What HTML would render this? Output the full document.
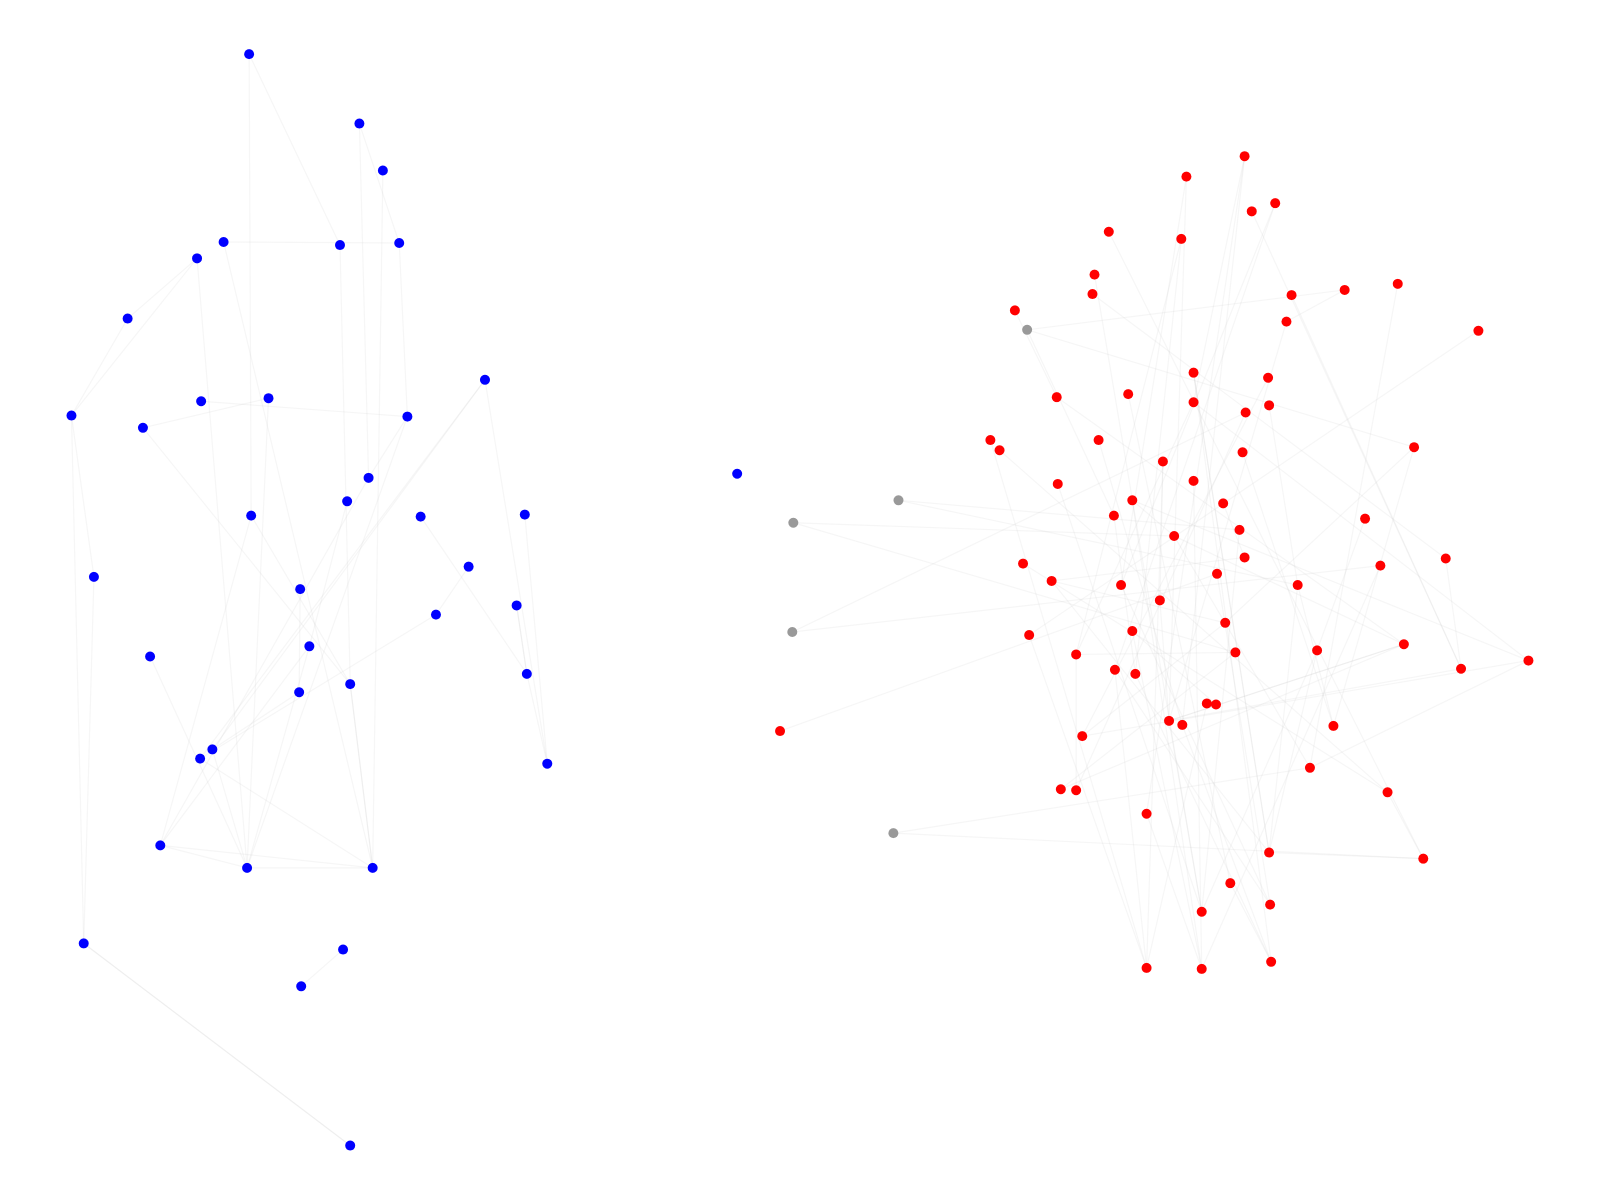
<!DOCTYPE html>
<html><head><meta charset="utf-8"><style>
html,body{margin:0;padding:0;background:#fff}
svg{display:block}
</style></head><body>
<svg id="chart" width="1600" height="1200" xmlns="http://www.w3.org/2000/svg">
<g id="edges"></g>
<g id="nodes"></g>
</svg>
<script>
const blueX=[244,352,375,219,193,333,391,125,70,140,197,263,475,399,361,340,246,412,514,92,459,294,506,427,303,147,343,293,516,208,196,536,157,242,365,82,336,295,343,722];
const blueY=[53,121,167,237,253,240,238,312,407,419,393,390,372,408,468,491,505,506,504,565,555,577,593,602,633,643,670,678,660,734,743,748,828,850,850,924,930,966,1122,464];
const grayX=[1006,880,777,776,875];
const grayY=[323,490,512,619,816];
const redX=[764,1219,1162,1249,1226,1086,1157,1072,1070,1265,1317,1369,994,1260,1448,1169,1242,1105,1035,1169,1243,1220,970,979,1076,1385,1217,1139,1169,1036,1109,1198,1091,1337,1214,1150,1219,1416,1002,1352,1192,1030,1098,1271,1136,1200,1109,1008,1375,1290,1210,1054,1092,1112,1431,1497,1182,1191,1145,1158,1306,1060,1283,1039,1054,1359,1123,1243,1394,1205,1177,1244,1123,1177,1245];
const redY=[716,153,173,199,207,227,234,269,288,289,284,278,304,315,324,365,370,386,389,394,397,404,431,441,431,438,443,452,471,474,490,493,505,508,519,525,546,547,552,554,562,569,573,573,588,610,618,622,631,637,639,641,656,660,655,647,689,690,706,710,711,721,752,773,774,776,797,835,841,865,893,886,948,949,942];
const groups=[["blue","#0000ff",blueX,blueY],["gray","#999999",grayX,grayY],["red","#ff0000",redX,redY]];
const SC=1.021;
function sx(v){return v*SC;}
function sy(v){return v*SC;}
const allX=[...blueX,...grayX,...redX];
const allY=[...blueY,...grayY,...redY];
const edgeA=[0,0,1,1,2,3,3,4,7,7,8,8,9,10,11,12,13,13,14,15,16,17,18,19,20,21,22,24,25,26,27,29,30,32,32,33,34,35,36,33,5,6,12,4,9,16,23,28,31,24,38,
40,40,40,41,41,42,42,43,43,44,44,45,46,46,47,48,49,50,51,52,53,54,55,56,57,58,59,60,61,62,63,64,65,66,67,68,69,70,71,72,73,74,75,76,77,78,79,80,81,82,83,84,85,86,87,88,89,90,91,92,93,94,95,96,97,98,99,100,101,102,103,104,105,106,107,108,109,110,111,112,113,114,115,116,117,118,119,46,47,48,51,60,72,80,64,75,90];
const edgeB=[16,5,14,6,34,6,34,8,8,4,19,35,26,13,33,31,14,33,32,24,32,28,31,35,23,27,28,33,33,34,29,12,34,34,33,34,26,38,37,29,26,13,30,33,11,26,30,22,28,32,35,
70,77,55,79,88,80,95,66,84,113,107,85,111,104,87,97,99,113,96,115,82,99,58,107,63,103,92,112,106,114,93,100,88,109,117,110,104,105,105,89,118,115,80,81,98,94,115,93,86,99,110,118,116,112,116,112,103,86,118,117,103,115,108,95,117,119,103,106,102,91,93,119,88,90,100,93,96,113,118,94,112,119,103,97,101,75,60,64,103,87,98,112,117,107,96,100,70,85,57,99,66];
const eg=document.getElementById('edges');
const n=Math.min(edgeA.length,edgeB.length);
for(let i=0;i<n;i++){
  const a=edgeA[i],b=edgeB[i];
  if(a===undefined||b===undefined||a>=allX.length||b>=allX.length)continue;
  const l=document.createElementNS('http://www.w3.org/2000/svg','line');
  l.setAttribute('x1',sx(allX[a]));l.setAttribute('y1',sy(allY[a]));
  l.setAttribute('x2',sx(allX[b]));l.setAttribute('y2',sy(allY[b]));
  l.setAttribute('stroke','#cccccc');l.setAttribute('stroke-opacity','0.18');l.setAttribute('stroke-width','1.2');
  
  
  eg.appendChild(l);
}
const ng=document.getElementById('nodes');
groups.forEach(([name,col,xs,ys])=>{
  for(let i=0;i<xs.length;i++){
    const c=document.createElementNS('http://www.w3.org/2000/svg','circle');
    c.setAttribute('cx',sx(xs[i]));c.setAttribute('cy',sy(ys[i]));c.setAttribute('r','5');c.setAttribute('fill',col);
    
    
    ng.appendChild(c);
  }
});
</script>
</body></html>
